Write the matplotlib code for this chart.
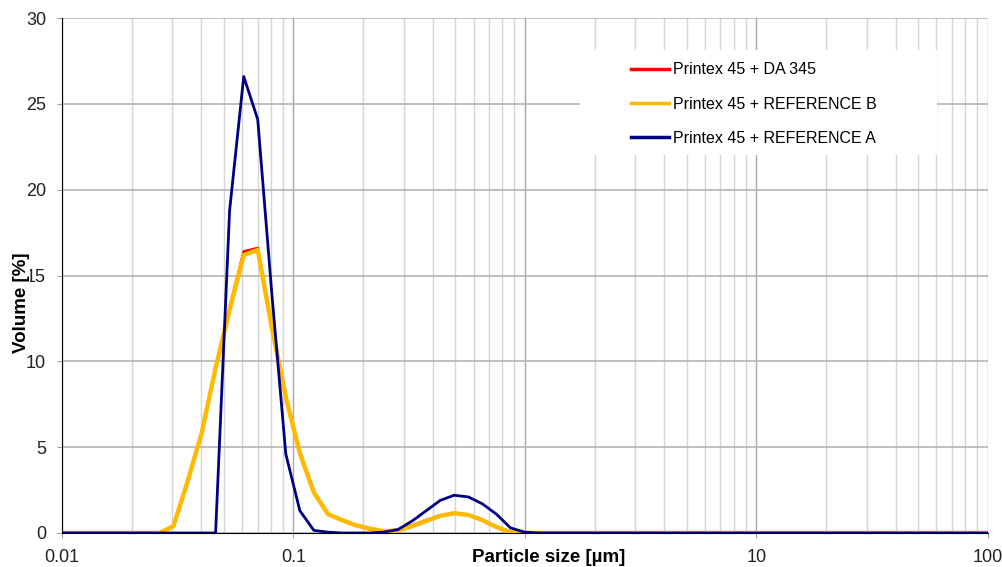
import matplotlib
matplotlib.use("Agg")
import matplotlib.pyplot as plt
from matplotlib.patches import Rectangle
from matplotlib.ticker import FixedLocator, NullFormatter

plt.rcParams['font.family'] = ['Liberation Sans', 'DejaVu Sans']

# size classes [um]
sizes = [0.01, 0.0264, 0.0303, 0.0349, 0.0401, 0.0461, 0.0530, 0.0610, 0.0701,
         0.0806, 0.0927, 0.1066, 0.1226, 0.141, 0.162, 0.186, 0.214, 0.246,
         0.283, 0.326, 0.375, 0.431, 0.495, 0.570, 0.655, 0.753, 0.866, 0.996,
         1.15, 100]

# volume [%]
da345 = [0, 0, 0.4, 3.0, 5.8, 9.6, 13.1, 16.4, 16.6,
         12.1, 8.0, 4.7, 2.4, 1.1, 0.75, 0.45, 0.2, 0.08,
         0.2, 0.45, 0.75, 1.0, 1.15, 1.05, 0.75, 0.35, 0.05, 0,
         0, 0]
ref_b = [0, 0, 0.4, 3.0, 5.8, 9.6, 13.0, 16.2, 16.5,
         12.0, 7.9, 4.65, 2.35, 1.1, 0.75, 0.45, 0.25, 0.1,
         0.15, 0.4, 0.7, 1.0, 1.15, 1.05, 0.75, 0.35, 0.05, 0,
         0, 0]
ref_a = [0, 0, 0, 0, 0, 0, 18.8, 26.6, 24.1,
         14.0, 4.6, 1.3, 0.15, 0.05, 0, 0, 0, 0.05,
         0.2, 0.7, 1.3, 1.9, 2.2, 2.1, 1.7, 1.1, 0.3, 0.05,
         0, 0]

labels = ['Printex 45 + DA 345', 'Printex 45 + REFERENCE B', 'Printex 45 + REFERENCE A']
colors = ['#ff0000', '#ffb900', '#000080']

# the "1" label sits under the axis title in the original, so it is left blank
xtick_vals = [0.01, 0.1, 1, 10, 100]
xtick_text = ['0.01', '0.1', '', '10', '100']

fig = plt.figure(figsize=(10.03, 5.67), dpi=100)
ax = fig.add_axes([0.0618, 0.06, 0.923, 0.908])

ax.plot(sizes, da345, color=colors[0], lw=2.0, label=labels[0])
ax.plot(sizes, ref_b, color=colors[1], lw=3.2, label=labels[1])
ax.plot(sizes, ref_a, color=colors[2], lw=2.0, label=labels[2])

ax.set_xscale('log')
ax.set_xlim(0.01, 100)
ax.set_ylim(0, 30)
ax.set_yticks([0, 5, 10, 15, 20, 25, 30])
ax.set_xticks(xtick_vals)
ax.set_xticklabels(xtick_text)
ax.xaxis.set_minor_locator(FixedLocator(
    [m * 10.0 ** e for e in range(-2, 2) for m in range(2, 10)]))
ax.xaxis.set_minor_formatter(NullFormatter())

ax.grid(True, which='major', axis='x', color='#a8a8a8', lw=1.0)
ax.grid(True, which='minor', axis='x', color='#d4d4d4', lw=1.0)
ax.grid(True, which='major', axis='y', color='#b4b4b4', lw=1.2)
ax.set_axisbelow(True)

for s in ['top', 'right']:
    ax.spines[s].set_visible(False)
ax.spines['left'].set_color('black')
ax.spines['bottom'].set_color('black')
ax.tick_params(axis='both', which='major', length=3.5, color='#a0a0a0',
               labelsize=13, labelcolor='#222222', pad=8)
ax.tick_params(axis='x', which='minor', length=0)

ax.set_xlabel('Particle size [µm]', fontsize=13.5, fontweight='bold')
ax.xaxis.set_label_coords(0.526, -0.031)
ax.set_ylabel('Volume [%]', fontsize=13.5, fontweight='bold',
              bbox=dict(facecolor='white', edgecolor='none', pad=0))
ax.yaxis.set_label_coords(-0.0345, 0.447)

# white box behind the legend (hides the grid there)
ax.add_patch(Rectangle((0.5594, 0.734), 0.386, 0.204, transform=ax.transAxes,
                       facecolor='white', edgecolor='none', zorder=1.5))

leg = ax.legend(loc='upper left', bbox_to_anchor=(0.6145, 0.914), frameon=False,
                fontsize=11.5, handlelength=2.4, handletextpad=0.25,
                labelspacing=1.2, borderpad=0, borderaxespad=0)
for line in leg.get_lines():
    line.set_linewidth(2.5)

fig.savefig('out.png', dpi=100)
